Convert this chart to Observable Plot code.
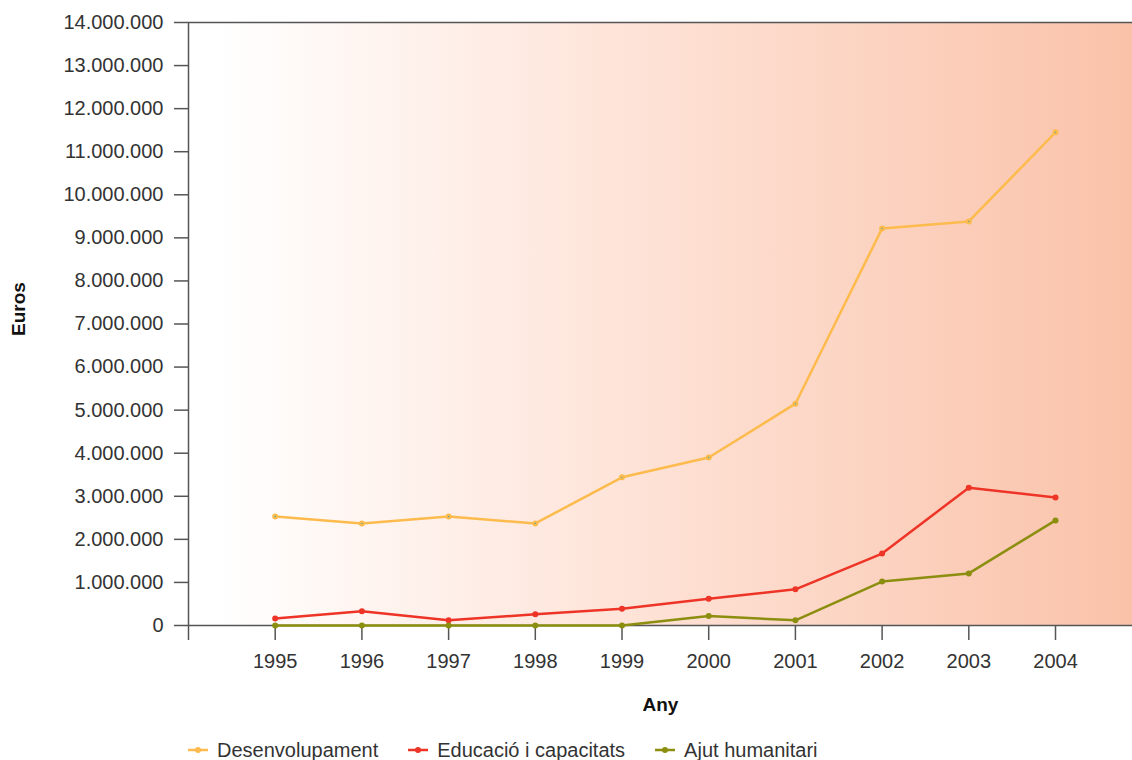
<!DOCTYPE html>
<html>
<head>
<meta charset="utf-8">
<script src="https://cdn.jsdelivr.net/npm/d3@7"></script>
<script src="https://cdn.jsdelivr.net/npm/@observablehq/plot@0.6"></script>
<style>
  html, body { margin: 0; padding: 0; background: #fff; }
  #chart svg { display: block; }
  #legend { display: flex; align-items: center; height: 30px; margin-left: 188px;
            font-family: "Liberation Sans", Arial, sans-serif; font-size: 20px; color: #333; }
  #legend .item { display: flex; align-items: center; margin-right: 30px; }
  #legend svg { margin-right: 9px; }
</style>
</head>
<body>
<div id="chart"></div>
<div id="legend"></div>
<script>
const years = [1995, 1996, 1997, 1998, 1999, 2000, 2001, 2002, 2003, 2004];
const desenvolupament = [2530000, 2370000, 2530000, 2370000, 3440000, 3900000, 5150000, 9220000, 9380000, 11450000];
const educacio = [160000, 330000, 120000, 260000, 390000, 620000, 840000, 1670000, 3200000, 2970000];
const ajut = [0, 0, 0, 0, 0, 220000, 120000, 1020000, 1210000, 2440000];
const seriesNames = ["Desenvolupament", "Educació i capacitats", "Ajut humanitari"];
const seriesColors = ["#FDBB4D", "#EE3427", "#8C8E0F"];
const yTicks = d3.range(0, 14000001, 1000000);
const xTicks = d3.range(1994, 2005);

const seriesValues = [desenvolupament, educacio, ajut];
const series = seriesNames.map((name, i) => ({
  name, color: seriesColors[i],
  data: years.map((year, j) => ({year, value: seriesValues[i][j]}))
}));

const fmt = d3.formatLocale({decimal: ",", thousands: ".", grouping: [3], currency: ["", "€"]}).format(",d");
const axisColor = "#555";

const marks = [
  Plot.frame({fill: "url(#bggrad)", stroke: "none"}),
  Plot.ruleY([0, 14000000], {stroke: axisColor, strokeWidth: 1.5}),
  Plot.ruleX([1994], {stroke: axisColor, strokeWidth: 1.5}),
  Plot.axisY({ticks: yTicks, tickFormat: fmt, tickSize: 14, tickPadding: 11, stroke: axisColor, strokeWidth: 1.5, label: null, fill: "#333"}),
  Plot.axisX({ticks: xTicks, tickFormat: d => d === 1994 ? "" : String(d), tickSize: 15, tickPadding: 13, stroke: axisColor, strokeWidth: 1.5, label: null, fill: "#333"}),
];
for (const s of series) {
  marks.push(Plot.line(s.data, {x: "year", y: "value", stroke: s.color, strokeWidth: 2.5}));
  marks.push(Plot.dot(s.data, {x: "year", y: "value", fill: s.color, r: 3}));
}
marks.push(Plot.dot(series[0].data, {x: "year", y: "value", fill: "#4aa3a0", r: 0.7}));
marks.push(Plot.text(["Euros"], {frameAnchor: "left", textAnchor: "middle", dx: -170, dy: -15, rotate: -90, fontWeight: "bold", fontSize: 19, fill: "#111"}));
marks.push(Plot.text(["Any"], {frameAnchor: "bottom", dy: 85, fontWeight: "bold", fontSize: 19, fill: "#111"}));

const chart = Plot.plot({
  width: 1132,
  height: 735,
  marginLeft: 188,
  marginRight: 0,
  marginTop: 22,
  marginBottom: 110,
  style: {fontFamily: "Liberation Sans, Arial, sans-serif", fontSize: "20px", color: "#333", background: "#fff"},
  x: {type: "linear", domain: [1994, 2004.888]},
  y: {domain: [0, 14000000]},
  marks
});

const ns = "http://www.w3.org/2000/svg";
const defs = document.createElementNS(ns, "defs");
const grad = document.createElementNS(ns, "linearGradient");
grad.setAttribute("id", "bggrad");
grad.setAttribute("x1", "0"); grad.setAttribute("x2", "1");
grad.setAttribute("y1", "0"); grad.setAttribute("y2", "0");
[["0", "#ffffff"], ["0.03", "#ffffff"], ["0.45", "#FEE4D9"], ["1", "#FAC2A9"]].forEach(([o, c]) => {
  const st = document.createElementNS(ns, "stop");
  st.setAttribute("offset", o); st.setAttribute("stop-color", c);
  grad.appendChild(st);
});
defs.appendChild(grad);
chart.insertBefore(defs, chart.firstChild);
document.getElementById("chart").appendChild(chart);

const legend = document.getElementById("legend");
for (const s of series) {
  const item = document.createElement("div");
  item.className = "item";
  item.innerHTML = `<svg width="20" height="10"><line x1="0" x2="20" y1="5" y2="5" stroke="${s.color}" stroke-width="2.5"/><circle cx="10" cy="5" r="3" fill="${s.color}"/></svg><span>${s.name}</span>`;
  legend.appendChild(item);
}
</script>
</body>
</html>
